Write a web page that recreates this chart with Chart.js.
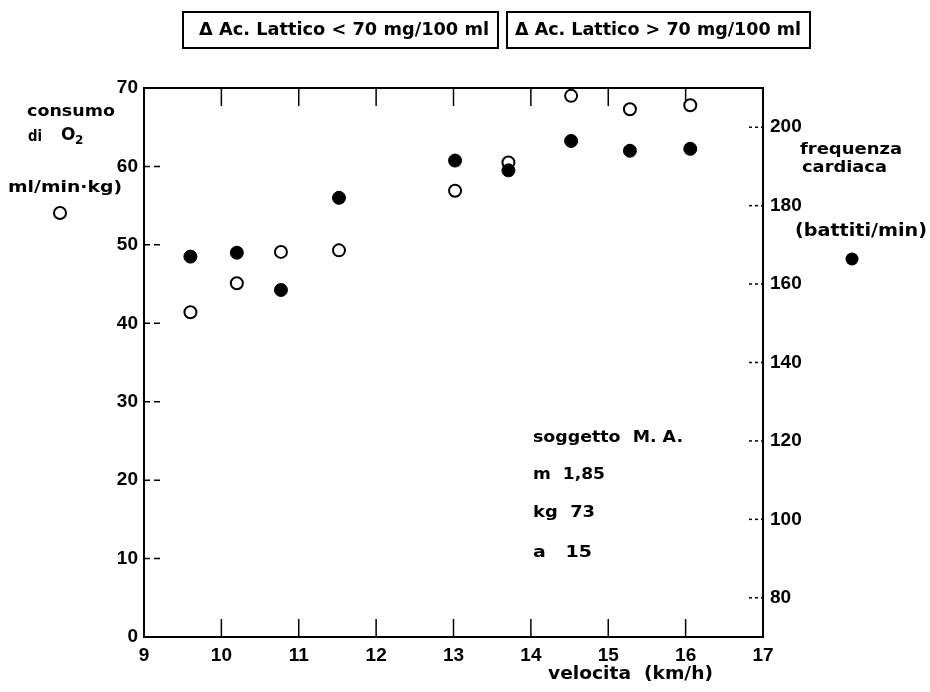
<!DOCTYPE html>
<html>
<head>
<meta charset="utf-8">
<script src="https://cdn.jsdelivr.net/npm/chart.js@4.4.1/dist/chart.umd.min.js"></script>
<style>
  html, body { margin: 0; padding: 0; background: #fff; }
</style>
</head>
<body>
<canvas id="chart" width="930" height="692"></canvas>
<script>
// values
const speeds = [9.6, 10.2, 10.77, 11.52, 13.02, 13.71, 14.52, 15.28, 16.06];
const o2Uptake = [41.4, 45.1, 49.1, 49.3, 56.9, 60.5, 69.0, 67.3, 67.8];
const heartRate = [167, 168, 158.5, 182, 191.5, 189, 196.5, 194, 194.5];
const speedTicks = [9, 10, 11, 12, 13, 14, 15, 16, 17];
const o2Ticks = [0, 10, 20, 30, 40, 50, 60, 70];
const hrTicks = [80, 100, 120, 140, 160, 180, 200];
const boxLabels = ['\u0394 Ac. Lattico < 70 mg/100 ml', '\u0394 Ac. Lattico > 70 mg/100 ml'];
const subjectLines = ['soggetto  M. A.', 'm  1,85', 'kg  73', 'a   15'];

const FONT = '"Liberation Sans", Arial, sans-serif';
const TEXT_FONT = '"DejaVu Sans", sans-serif';

function fitText(ctx, text, x, y, w, size) {
  ctx.font = 'bold ' + size + 'px ' + TEXT_FONT;
  const m = ctx.measureText(text).width;
  ctx.save();
  ctx.translate(x, y);
  ctx.scale(w / m, 1);
  ctx.fillText(text, 0, 0);
  ctx.restore();
}

function line(ctx, x1, y1, x2, y2) {
  ctx.beginPath();
  ctx.moveTo(x1, y1);
  ctx.lineTo(x2, y2);
  ctx.stroke();
}

const decor = {
  id: 'decor',
  beforeDatasetsDraw(chart) {
    const { ctx, chartArea: a, scales } = chart;
    ctx.save();
    ctx.strokeStyle = '#000';
    ctx.lineWidth = 2;
    line(ctx, a.left - 1, a.top, a.right + 1, a.top);
    ctx.lineWidth = 1.5;
    speedTicks.slice(1, -1).forEach(v => {
      const px = scales.x.getPixelForValue(v);
      line(ctx, px, a.bottom, px, a.bottom - 18);
      line(ctx, px, a.top, px, a.top + 18);
    });
    ctx.setLineDash([6, 4]);
    o2Ticks.slice(1, -1).forEach(v => {
      const py = scales.y.getPixelForValue(v);
      line(ctx, a.left, py, a.left + 20, py);
    });
    ctx.setLineDash([3, 3]);
    hrTicks.forEach(v => {
      const py = scales.y2.getPixelForValue(v);
      line(ctx, a.right - 14, py, a.right, py);
    });
    ctx.restore();
  },
  afterDraw(chart) {
    const { ctx } = chart;
    ctx.save();
    ctx.fillStyle = '#000';
    ctx.strokeStyle = '#000';
    ctx.textAlign = 'left';
    ctx.textBaseline = 'middle';

    // header boxes
    ctx.lineWidth = 2;
    ctx.strokeRect(183, 12, 315, 36);
    ctx.strokeRect(507, 12, 303, 36);
    fitText(ctx, boxLabels[0], 199, 31, 290, 17);
    fitText(ctx, boxLabels[1], 515, 31, 286, 17);

    // left axis title
    fitText(ctx, 'consumo', 27, 112, 88, 15);
    fitText(ctx, 'di', 28, 137, 14, 15);
    ctx.font = 'bold 17px ' + TEXT_FONT;
    ctx.fillText('O', 61, 136);
    ctx.font = 'bold 12px ' + TEXT_FONT;
    ctx.fillText('2', 75, 141);
    fitText(ctx, 'ml/min\u00b7kg)', 8, 188, 114, 15);
    ctx.beginPath();
    ctx.arc(60, 213, 6, 0, Math.PI * 2);
    ctx.lineWidth = 2;
    ctx.stroke();

    // right axis title
    fitText(ctx, 'frequenza', 800, 150, 102, 15);
    fitText(ctx, 'cardiaca', 802, 168, 85, 15);
    fitText(ctx, '(battiti/min)', 795, 232, 132, 17);
    ctx.beginPath();
    ctx.arc(852, 259, 6.5, 0, Math.PI * 2);
    ctx.fill();

    // subject notes
    fitText(ctx, subjectLines[0], 533, 438, 150, 15);
    fitText(ctx, subjectLines[1], 533, 475, 72, 15);
    fitText(ctx, subjectLines[2], 533, 513, 62, 15);
    fitText(ctx, subjectLines[3], 533, 553, 59, 15);

    // x axis title
    fitText(ctx, 'velocita  (km/h)', 548, 675, 165, 17);
    ctx.restore();
  }
};

const tickFont = { family: FONT, size: 19, weight: 'bold' };

new Chart(document.getElementById('chart'), {
  type: 'scatter',
  data: {
    datasets: [
      {
        label: 'frequenza cardiaca',
        data: speeds.map((s, i) => ({ x: s, y: heartRate[i] })),
        yAxisID: 'y2',
        order: 0,
        pointRadius: 6.5,
        pointBackgroundColor: '#000',
        pointBorderColor: '#000',
        pointBorderWidth: 1
      },
      {
        label: 'consumo di O2',
        data: speeds.map((s, i) => ({ x: s, y: o2Uptake[i] })),
        yAxisID: 'y',
        order: 1,
        pointRadius: 6,
        pointBackgroundColor: '#fff',
        pointBorderColor: '#000',
        pointBorderWidth: 2
      }
    ]
  },
  options: {
    responsive: false,
    animation: false,
    layout: { padding: { left: 100, right: 117, top: 88, bottom: 25 } },
    plugins: { legend: { display: false }, tooltip: { enabled: false } },
    scales: {
      x: {
        type: 'linear', position: 'bottom', min: 9, max: 17,
        afterBuildTicks: s => { s.ticks = speedTicks.map(v => ({ value: v })); },
        afterFit: s => { s.height = 30; },
        grid: { display: false, drawTicks: false },
        border: { display: true, color: '#000', width: 2 },
        ticks: { color: '#000', font: tickFont, padding: 7, maxRotation: 0 }
      },
      y: {
        type: 'linear', position: 'left', min: 0, max: 70,
        afterBuildTicks: s => { s.ticks = o2Ticks.map(v => ({ value: v })); },
        afterFit: s => { s.width = 44; },
        grid: { display: false, drawTicks: false },
        border: { display: true, color: '#000', width: 2 },
        ticks: { color: '#000', font: tickFont, padding: 6 }
      },
      y2: {
        type: 'linear', position: 'right', min: 70, max: 210,
        afterBuildTicks: s => { s.ticks = hrTicks.map(v => ({ value: v })); },
        afterFit: s => { s.width = 50; },
        grid: { display: false, drawTicks: false },
        border: { display: true, color: '#000', width: 2 },
        ticks: { color: '#000', font: tickFont, padding: 7 }
      }
    }
  },
  plugins: [decor]
});
</script>
</body>
</html>
